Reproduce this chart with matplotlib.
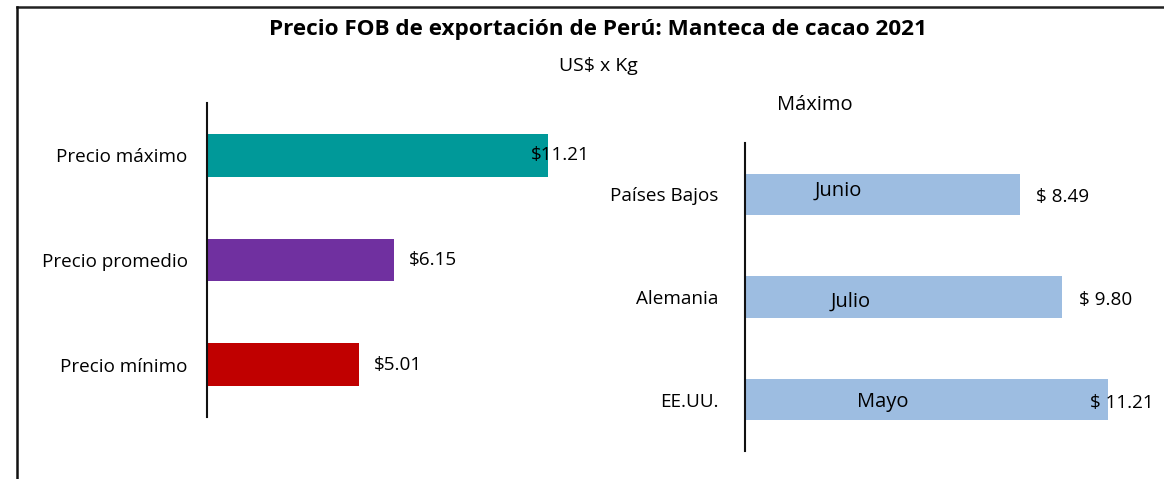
import matplotlib
matplotlib.use("Agg")
import matplotlib.pyplot as plt
from matplotlib.lines import Line2D

plt.rcParams['font.family'] = ['Open Sans', 'DejaVu Sans']

title = "Precio FOB de exportación de Perú: Manteca de cacao 2021"
subtitle = "US$ x Kg"

left_cats = ["Precio máximo", "Precio promedio", "Precio mínimo"]
left_vals = [11.21, 6.15, 5.01]
left_labels = ["$11.21", "$6.15", "$5.01"]
left_colors = ["#009999", "#7030A0", "#C00000"]

right_title = "Máximo"
right_cats = ["Países Bajos", "Alemania", "EE.UU."]
right_vals = [8.49, 9.80, 11.21]
right_labels = ["$ 8.49", "$ 9.80", "$ 11.21"]
right_months = ["Junio", "Julio", "Mayo"]
right_color = "#9DBDE1"

W, H = 1164, 479
fig = plt.figure(figsize=(W / 100, H / 100), dpi=100)


def px_axes(x0, y0, x1, y1):
    return fig.add_axes([x0 / W, 1 - y1 / H, (x1 - x0) / W, (y1 - y0) / H])


# border lines (top and left)
fig.add_artist(Line2D([17 / W, 1], [1 - 7 / H, 1 - 7 / H], color="#222222", lw=1.8,
                      transform=fig.transFigure))
fig.add_artist(Line2D([17 / W, 17 / W], [0, 1 - 7 / H], color="#111111", lw=1.8,
                      transform=fig.transFigure))

fig.text(598 / W, 1 - 29 / H, title, ha="center", va="center", fontsize=16.2,
         fontweight="bold")
fig.text(598 / W, 1 - 66 / H, subtitle, ha="center", va="center", fontsize=14)

LBL = 13.6


def style(ax, pad):
    for s in ["top", "right", "bottom"]:
        ax.spines[s].set_visible(False)
    ax.spines["left"].set_linewidth(1.5)
    ax.spines["left"].set_color("#111111")
    ax.set_xticks([])
    ax.tick_params(axis="y", length=0, pad=pad, labelsize=LBL)
    ax.set_facecolor("none")


# left chart
axL = px_axes(207, 103, 207 + 12 * 30.42, 417)
yL = list(range(len(left_cats)))
axL.barh(yL, left_vals, height=0.41, color=left_colors)
axL.set_xlim(0, 12)
axL.set_ylim(2.5, -0.5)
axL.set_yticks(yL)
axL.set_yticklabels(left_cats)
style(axL, 14)
for i, (v, lab) in enumerate(zip(left_vals, left_labels)):
    off = -0.55 if i == 0 else 0.48
    axL.text(v + off, i, lab, ha="left", va="center", fontsize=LBL)

# right chart
axR = px_axes(745, 143, 745 + 12 * 32.38, 451)
yR = list(range(len(right_cats)))
axR.barh(yR, right_vals, height=0.4, color=right_color)
axR.set_xlim(0, 12)
axR.set_ylim(2.5, -0.5)
axR.set_yticks(yR)
axR.set_yticklabels(right_cats)
style(axR, 19)
axR.set_title(right_title, fontsize=14.5, x=0.18, pad=24)
month_x = [2.87, 3.25, 4.24]
month_dy = [-0.04, 0.05, 0.02]
for i, (v, lab, m) in enumerate(zip(right_vals, right_labels, right_months)):
    off = -0.55 if i == 2 else 0.5
    axR.text(v + off, i + 0.03, lab, ha="left", va="center", fontsize=LBL)
    axR.text(month_x[i], i + month_dy[i], m, ha="center", va="center", fontsize=14.5)

fig.savefig("out.png", dpi=100)
